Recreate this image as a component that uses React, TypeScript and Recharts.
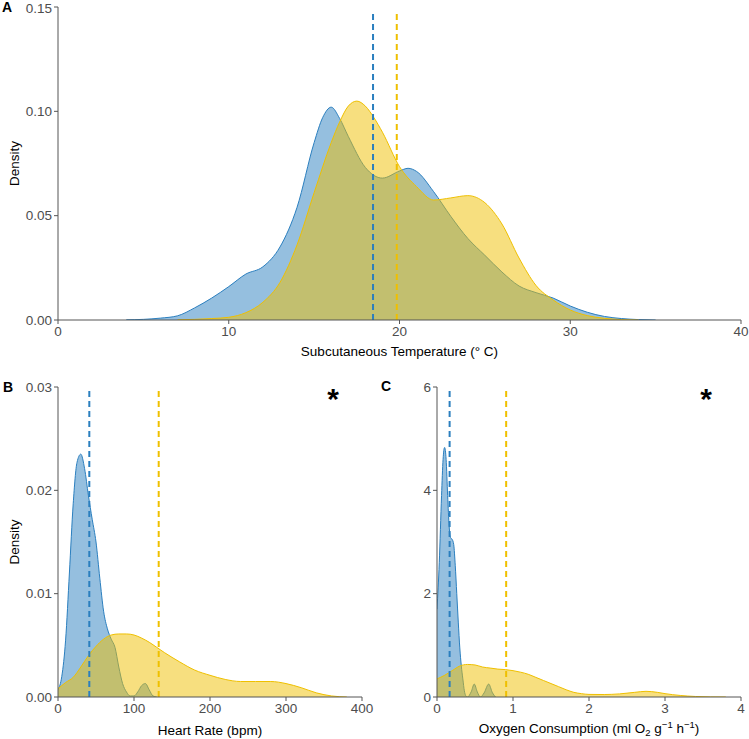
import React from 'react';
import { ComposedChart, Area, XAxis, YAxis, ReferenceLine, ReferenceDot, Label } from 'recharts';

const FONT = '"Liberation Sans", Arial, Helvetica, sans-serif';
const BLUE = '#2b7fbf';
const YELLOW = '#EFC000';
const AXIS = '#555555';
const TICK_TEXT = '#4d4d4d';
const FS = 13.5;

// ---------- Panel A: Subcutaneous temperature ----------
const tempBlueX = [4, 5, 6, 7, 8, 9, 10, 11, 12, 13, 14, 15, 15.5, 16, 16.5, 17, 18, 19, 20, 20.5, 21, 22, 23, 24, 25, 26, 27, 28, 29, 30, 31, 32, 33, 34, 35];
const tempBlueY = [0.0001, 0.0003, 0.0009, 0.002, 0.0058, 0.0105, 0.016, 0.022, 0.0255, 0.035, 0.054, 0.085, 0.097, 0.102, 0.0965, 0.088, 0.0731, 0.068, 0.0714, 0.0727, 0.0712, 0.0615, 0.0497, 0.0391, 0.031, 0.023, 0.0163, 0.0131, 0.0105, 0.0067, 0.0037, 0.0017, 0.0007, 0.0002, 0];
const tempYellowX = [7, 8, 9, 10, 11, 12, 13, 14, 15, 16, 16.5, 17, 17.5, 18, 18.5, 19, 20, 21, 22, 23, 24, 25, 26, 27, 28, 29, 30, 31, 32, 33, 34];
const tempYellowY = [0.0001, 0.0003, 0.0007, 0.0013, 0.0035, 0.0085, 0.018, 0.036, 0.061, 0.085, 0.095, 0.1025, 0.1049, 0.1025, 0.097, 0.09, 0.0735, 0.0639, 0.0575, 0.0585, 0.0596, 0.0562, 0.046, 0.0297, 0.0165, 0.0096, 0.0048, 0.0021, 0.0008, 0.0002, 0];
const tempXTicks = [0, 10, 20, 30, 40];
const tempYTicks = [0, 0.05, 0.1, 0.15];
const tempMeans = { blue: 18.45, yellow: 19.84 };

// ---------- Panel B: Heart rate ----------
const hrBlueX = [0, 5, 10, 15, 20, 25, 30, 35, 40, 45, 50, 55, 60, 65, 70, 75, 80, 85, 90, 95, 100, 105, 110, 115, 120, 125, 130];
const hrBlueY = [0.0007, 0.002, 0.0055, 0.012, 0.0187, 0.0227, 0.0235, 0.0221, 0.0195, 0.0172, 0.015, 0.0115, 0.0083, 0.0066, 0.0056, 0.0048, 0.0029, 0.0013, 0.0005, 0.0001, 0.0001, 0.0005, 0.0011, 0.0013, 0.0007, 0.0001, 0];
const hrYellowX = [0, 10, 20, 30, 40, 50, 60, 70, 80, 90, 100, 110, 120, 130, 140, 160, 180, 200, 220, 240, 260, 280, 300, 320, 340, 360, 380];
const hrYellowY = [0.0008, 0.0014, 0.0019, 0.0029, 0.004, 0.0049, 0.0056, 0.006, 0.0061, 0.0061, 0.006, 0.0057, 0.0053, 0.0048, 0.0043, 0.0034, 0.0026, 0.0021, 0.0017, 0.0015, 0.0015, 0.0015, 0.0013, 0.0009, 0.0004, 0.0001, 0];
const hrXTicks = [0, 100, 200, 300, 400];
const hrYTicks = [0, 0.01, 0.02, 0.03];
const hrMeans = { blue: 41.2, yellow: 132.5 };

// ---------- Panel C: Oxygen consumption ----------
const oxBlueX = [0, 0.03, 0.06, 0.08, 0.1, 0.12, 0.14, 0.16, 0.18, 0.2, 0.22, 0.24, 0.26, 0.28, 0.3, 0.32, 0.34, 0.36, 0.38, 0.4, 0.45, 0.49, 0.53, 0.57, 0.62, 0.68, 0.73, 0.77];
const oxBlueY = [1.7, 2.6, 3.9, 4.6, 4.83, 4.6, 3.9, 3.3, 3.08, 3.05, 2.95, 2.55, 2.0, 1.45, 0.95, 0.6, 0.35, 0.12, 0.02, 0, 0.1, 0.25, 0.1, 0, 0.08, 0.25, 0.08, 0];
const oxYellowX = [0, 0.1, 0.2, 0.3, 0.4, 0.5, 0.6, 0.7, 0.8, 0.9, 1.0, 1.1, 1.2, 1.3, 1.4, 1.5, 1.6, 1.7, 1.8, 1.9, 2.0, 2.2, 2.4, 2.6, 2.75, 2.9, 3.0, 3.2, 3.4, 3.6, 3.8];
const oxYellowY = [0.35, 0.42, 0.51, 0.6, 0.63, 0.62, 0.58, 0.56, 0.54, 0.53, 0.51, 0.48, 0.44, 0.38, 0.32, 0.26, 0.2, 0.14, 0.09, 0.065, 0.05, 0.048, 0.06, 0.09, 0.11, 0.09, 0.065, 0.03, 0.01, 0.002, 0];
const oxXTicks = [0, 1, 2, 3, 4];
const oxYTicks = [0, 2, 4, 6];
const oxMeans = { blue: 0.166, yellow: 0.91 };

const rows = (xs: number[], ys: number[]) => xs.map((x, i) => ({ x, y: ys[i] }));

const tickStyle = { fill: TICK_TEXT, fontSize: FS, fontFamily: FONT };

const OxyLabel = (props: any) => {
  const vb = props.viewBox || {};
  const cx = vb.x + vb.width / 2;
  const by = vb.y + vb.height - 6;
  return (
    <text x={cx} y={by} textAnchor="middle" fontSize={FS} fontFamily={FONT} fill="#000">
      <tspan>Oxygen Consumption (ml O</tspan>
      <tspan fontSize={9.5} dy={3}>2</tspan>
      <tspan dy={-3}> g</tspan>
      <tspan fontSize={9.5} dy={-5}>−1</tspan>
      <tspan dy={5}> h</tspan>
      <tspan fontSize={9.5} dy={-5}>−1</tspan>
      <tspan dy={5}>)</tspan>
    </text>
  );
};

type PanelProps = {
  width: number;
  height: number;
  margin: { top: number; right: number; bottom: number; left: number };
  yWidth: number;
  xHeight: number;
  xDomain: [number, number];
  xTicks: number[];
  yDomain: [number, number];
  yTicks: number[];
  yFmt: (v: number) => string;
  blue: { x: number; y: number }[];
  yellow: { x: number; y: number }[];
  means: { blue: number; yellow: number };
  meanTop: number;
  xTitle?: string;
  xTitleNode?: any;
  yTitle?: string;
  star?: { x: number; y: number };
};

function Panel(p: PanelProps) {
  return (
    <ComposedChart width={p.width} height={p.height} margin={p.margin}>
      <XAxis
        type="number"
        dataKey="x"
        domain={p.xDomain}
        ticks={p.xTicks}
        allowDataOverflow
        height={p.xHeight}
        tickSize={4}
        tickMargin={2}
        stroke={AXIS}
        tickLine={{ stroke: AXIS }}
        axisLine={{ stroke: AXIS }}
        tick={tickStyle}
      >
        {p.xTitleNode ? (
          <Label content={p.xTitleNode} />
        ) : (
          <Label value={p.xTitle} position="insideBottom" offset={4} fill="#000" fontSize={FS} fontFamily={FONT} />
        )}
      </XAxis>
      <YAxis
        type="number"
        domain={p.yDomain}
        ticks={p.yTicks}
        allowDataOverflow
        width={p.yWidth}
        tickSize={4}
        tickMargin={2}
        tickFormatter={p.yFmt}
        stroke={AXIS}
        tickLine={{ stroke: AXIS }}
        axisLine={{ stroke: AXIS }}
        tick={tickStyle}
      >
        {p.yTitle ? (
          <Label
            value={p.yTitle}
            angle={-90}
            position="insideLeft"
            offset={14}
            fill="#000"
            fontSize={FS}
            fontFamily={FONT}
            style={{ textAnchor: 'middle' }}
          />
        ) : null}
      </YAxis>
      <Area
        data={p.blue}
        dataKey="y"
        type="monotone"
        stroke={BLUE}
        strokeWidth={1}
        fill={BLUE}
        fillOpacity={0.5}
        dot={false}
        activeDot={false}
        isAnimationActive={false}
      />
      <Area
        data={p.yellow}
        dataKey="y"
        type="monotone"
        stroke={YELLOW}
        strokeWidth={1}
        fill={YELLOW}
        fillOpacity={0.5}
        dot={false}
        activeDot={false}
        isAnimationActive={false}
      />
      <ReferenceLine
        segment={[{ x: p.means.blue, y: 0 }, { x: p.means.blue, y: p.meanTop }]}
        stroke={BLUE}
        strokeWidth={2}
        strokeDasharray="6 4"
      />
      <ReferenceLine
        segment={[{ x: p.means.yellow, y: 0 }, { x: p.means.yellow, y: p.meanTop }]}
        stroke={YELLOW}
        strokeWidth={2}
        strokeDasharray="6 4"
      />
      {p.star ? (
        <ReferenceDot
          x={p.star.x}
          y={p.star.y}
          r={0}
          fill="none"
          stroke="none"
          ifOverflow="visible"
          label={{ value: '*', position: 'center', fontSize: 30, fontWeight: 'bold', fill: '#000', fontFamily: FONT }}
        />
      ) : null}
    </ComposedChart>
  );
}

export default function App() {
  return (
    <div style={{ position: 'absolute', left: 0, top: 0, width: 749, height: 739, background: '#fff', fontFamily: FONT }}>
      <div style={{ position: 'absolute', left: 0, top: 0 }}>
        <Panel
          width={749}
          height={360}
          margin={{ top: 7, right: 8, bottom: 0, left: 0 }}
          yWidth={58}
          xHeight={40}
          xDomain={[0, 40]}
          xTicks={tempXTicks}
          yDomain={[0, 0.15]}
          yTicks={tempYTicks}
          yFmt={(v) => v.toFixed(2)}
          blue={rows(tempBlueX, tempBlueY)}
          yellow={rows(tempYellowX, tempYellowY)}
          means={tempMeans}
          meanTop={0.1485}
          xTitle="Subcutaneous Temperature (° C)"
          yTitle="Density"
        />
      </div>
      <div style={{ position: 'absolute', left: 0, top: 360 }}>
        <Panel
          width={378}
          height={379}
          margin={{ top: 27, right: 16, bottom: 0, left: 0 }}
          yWidth={58}
          xHeight={42}
          xDomain={[0, 400]}
          xTicks={hrXTicks}
          yDomain={[0, 0.03]}
          yTicks={hrYTicks}
          yFmt={(v) => v.toFixed(2)}
          blue={rows(hrBlueX, hrBlueY)}
          yellow={rows(hrYellowX, hrYellowY)}
          means={hrMeans}
          meanTop={0.0298}
          xTitle="Heart Rate (bpm)"
          yTitle="Density"
          star={{ x: 362, y: 0.0289 }}
        />
      </div>
      <div style={{ position: 'absolute', left: 378, top: 360 }}>
        <Panel
          width={371}
          height={379}
          margin={{ top: 27, right: 8, bottom: 0, left: 0 }}
          yWidth={59}
          xHeight={42}
          xDomain={[0, 4]}
          xTicks={oxXTicks}
          yDomain={[0, 6]}
          yTicks={oxYTicks}
          yFmt={(v) => String(v)}
          blue={rows(oxBlueX, oxBlueY)}
          yellow={rows(oxYellowX, oxYellowY)}
          means={oxMeans}
          meanTop={5.96}
          xTitleNode={OxyLabel}
          star={{ x: 3.54, y: 5.78 }}
        />
      </div>
      <svg
        width={749}
        height={739}
        style={{ position: 'absolute', left: 0, top: 0, pointerEvents: 'none' }}
      >
        <text x={2} y={12} fontSize={14} fontWeight="bold" fontFamily={FONT} fill="#000">A</text>
        <text x={3} y={392} fontSize={14} fontWeight="bold" fontFamily={FONT} fill="#000">B</text>
        <text x={381} y={391} fontSize={14} fontWeight="bold" fontFamily={FONT} fill="#000">C</text>
      </svg>
    </div>
  );
}
